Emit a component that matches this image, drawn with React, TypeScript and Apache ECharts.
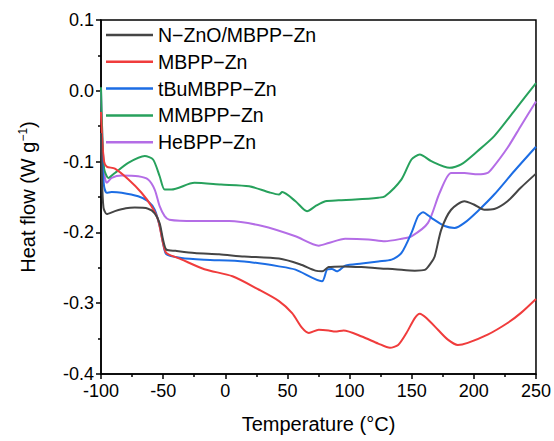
import React, { useEffect, useRef } from "react";
import * as echarts from "echarts";

const seriesNames = ["N−ZnO/MBPP−Zn", "MBPP−Zn", "tBuMBPP−Zn", "MMBPP−Zn", "HeBPP−Zn"];
const seriesColors = ["#454545", "#f03c3c", "#1c6de4", "#27a15c", "#b46de6"];

const xTicks = [-100, -50, 0, 50, 100, 150, 200, 250];
const yTicks = [-0.4, -0.3, -0.2, -0.1, 0.0, 0.1];

const blackT = [-100, -99.3, -98, -95.4, -88.8, -80, -72.8, -62.1, -56.8, -52.8, -50.1, -47.4, -40, -24.8, -5, 15.2, 43.2, 60, 72.5, 78, 83.2, 95, 109.5, 125, 136.5, 152.5, 160.5, 165.5, 168.5, 173.8, 181.7, 192.4, 200.4, 208.4, 216.4, 227.1, 237.7, 250];
const blackV = [-0.06, -0.12, -0.165, -0.174, -0.17, -0.166, -0.165, -0.1665, -0.173, -0.187, -0.21, -0.2243, -0.226, -0.229, -0.231, -0.234, -0.237, -0.245, -0.254, -0.255, -0.249, -0.248, -0.249, -0.251, -0.252, -0.254, -0.253, -0.243, -0.234, -0.196, -0.168, -0.156, -0.161, -0.168, -0.167, -0.156, -0.137, -0.117];

const redT = [-100, -99, -97.5, -95.4, -88.8, -78.1, -67.4, -59.4, -54.1, -50.1, -47.4, -35.4, -16.8, 5.8, 27.2, 43.2, 53.8, 61.8, 67.2, 75.2, 83.2, 88.5, 95.2, 109.8, 123.1, 132.5, 139.1, 145.8, 152.5, 156.5, 161.8, 171.1, 179.1, 187.1, 195.1, 211.1, 227.1, 237.7, 250];
const redV = [-0.03, -0.07, -0.1, -0.107, -0.11, -0.125, -0.144, -0.163, -0.182, -0.215, -0.229, -0.238, -0.252, -0.262, -0.281, -0.297, -0.314, -0.335, -0.342, -0.3375, -0.3385, -0.34, -0.3385, -0.347, -0.357, -0.363, -0.359, -0.342, -0.321, -0.315, -0.321, -0.3375, -0.3515, -0.359, -0.356, -0.3445, -0.328, -0.314, -0.294];

const blueT = [-100, -99, -97.5, -95.4, -91.4, -83.4, -70.1, -62.1, -56.8, -52.8, -50.1, -47.4, -35.4, -16.8, 15.2, 43.2, 56.5, 77.8, 81.9, 85.8, 89.8, 96.5, 109.8, 123.1, 133.8, 141.8, 149.8, 155.1, 159.1, 165.8, 176.5, 184.5, 192.4, 203.1, 216.4, 232.4, 250];
const blueV = [-0.06, -0.1, -0.135, -0.144, -0.143, -0.144, -0.149, -0.156, -0.168, -0.191, -0.215, -0.231, -0.236, -0.2385, -0.241, -0.248, -0.2526, -0.269, -0.2526, -0.2516, -0.255, -0.247, -0.244, -0.241, -0.2385, -0.229, -0.2007, -0.177, -0.1715, -0.1795, -0.191, -0.1937, -0.1866, -0.17, -0.1465, -0.1136, -0.079];

const greenT = [-100, -99, -97.5, -94.1, -88.8, -78.1, -64.8, -58.1, -52.8, -48.8, -43.4, -24.8, -3.4, 19.2, 35.2, 43.2, 45.8, 56.5, 65.8, 72.5, 80.5, 91.2, 104.5, 123.1, 128.5, 141.8, 149.8, 156.5, 165.8, 180.5, 189.8, 203.1, 216.4, 232.4, 250];
const greenV = [0.005, -0.06, -0.11, -0.123, -0.116, -0.1017, -0.092, -0.097, -0.1207, -0.1395, -0.1395, -0.13, -0.1324, -0.1348, -0.1433, -0.1465, -0.143, -0.156, -0.17, -0.163, -0.156, -0.1546, -0.1536, -0.151, -0.149, -0.125, -0.097, -0.09, -0.0994, -0.1088, -0.104, -0.085, -0.064, -0.0287, 0.011];

const purpleT = [-100, -99, -97.5, -95.4, -91.4, -83.4, -70.1, -62.1, -56.8, -52.8, -48.8, -45, -24.8, 3.2, 29.8, 56.5, 75.2, 83.2, 96.5, 115.1, 128.5, 141.8, 149.8, 163.1, 172.5, 181.7, 192.4, 203.1, 211.1, 215.1, 227.1, 237.7, 250];
const purpleV = [0.0, -0.06, -0.115, -0.13, -0.123, -0.1197, -0.1207, -0.1253, -0.1395, -0.163, -0.177, -0.182, -0.184, -0.184, -0.191, -0.2055, -0.2187, -0.215, -0.209, -0.21, -0.2125, -0.209, -0.2055, -0.1866, -0.144, -0.116, -0.116, -0.118, -0.116, -0.109, -0.0805, -0.05, -0.015];

const allT = [blackT, redT, blueT, greenT, purpleT];
const allV = [blackV, redV, blueV, greenV, purpleV];

const FONT = "Liberation Sans, Arial, sans-serif";

export default function App() {
  const ref = useRef<HTMLDivElement>(null);
  useEffect(() => {
    if (!ref.current) return;
    const chart = echarts.init(ref.current, null, { renderer: "svg" });
    const series = seriesNames.map((name, i) => ({
      name,
      type: "line",
      symbol: "none",
      smooth: 0.25,
      data: allT[i].map((t, j) => [t, allV[i][j]]),
      lineStyle: { color: seriesColors[i], width: 2 },
      itemStyle: { color: seriesColors[i] },
      z: 2 + (4 - i),
    }));
    chart.setOption({
      animation: false,
      backgroundColor: "#ffffff",
      textStyle: { fontFamily: FONT },
      grid: {
        left: 101,
        right: 15,
        top: 20,
        bottom: 67,
        show: true,
        borderColor: "#000",
        borderWidth: 1.5,
        backgroundColor: "transparent",
      },
      legend: {
        orient: "vertical",
        left: 106,
        top: 25,
        padding: 0,
        icon: "rect",
        itemWidth: 47,
        itemHeight: 2.5,
        itemGap: 6.8,
        data: seriesNames,
        textStyle: { fontSize: 19.5, color: "#000", fontFamily: FONT, lineHeight: 20, padding: [0, 0, 0, 0] },
      },
      xAxis: {
        type: "value",
        min: xTicks[0],
        max: xTicks[xTicks.length - 1],
        interval: 50,
        name: "Temperature (°C)",
        nameLocation: "middle",
        nameGap: 40,
        nameTextStyle: { fontSize: 20, color: "#000", fontFamily: FONT },
        axisLine: { show: true, onZero: false, lineStyle: { color: "#000", width: 1.5 } },
        axisTick: { show: true, inside: false, length: 5, lineStyle: { color: "#000", width: 1.5 } },
        minorTick: { show: true, splitNumber: 2, length: 3, lineStyle: { color: "#000", width: 1.5 } },
        axisLabel: { fontSize: 18, color: "#000", margin: 8, fontFamily: FONT },
        splitLine: { show: false },
      },
      yAxis: {
        type: "value",
        min: yTicks[0],
        max: yTicks[yTicks.length - 1],
        interval: 0.1,
        name: "{a|Heat flow (W g}{s|−1}{a|)}",
        nameLocation: "middle",
        nameGap: 62,
        nameRotate: 90,
        nameTextStyle: {
          color: "#000",
          fontFamily: FONT,
          rich: {
            a: { fontSize: 20, lineHeight: 22, fontFamily: FONT, color: "#000" },
            s: { fontSize: 12, lineHeight: 12, verticalAlign: "top", fontFamily: FONT, color: "#000" },
          },
        },
        axisLine: { show: true, onZero: false, lineStyle: { color: "#000", width: 1.5 } },
        axisTick: { show: true, inside: false, length: 5, lineStyle: { color: "#000", width: 1.5 } },
        minorTick: { show: true, splitNumber: 2, length: 3, lineStyle: { color: "#000", width: 1.5 } },
        axisLabel: {
          fontSize: 18,
          color: "#000",
          margin: 7,
          fontFamily: FONT,
          formatter: (v: number) => (Math.abs(v) < 1e-9 ? "0.0" : v.toFixed(1)),
        },
        splitLine: { show: false },
      },
      series,
    });
    return () => chart.dispose();
  }, []);
  return <div ref={ref} style={{ width: 554, height: 441, position: "absolute", left: 0, top: 0 }} />;
}
